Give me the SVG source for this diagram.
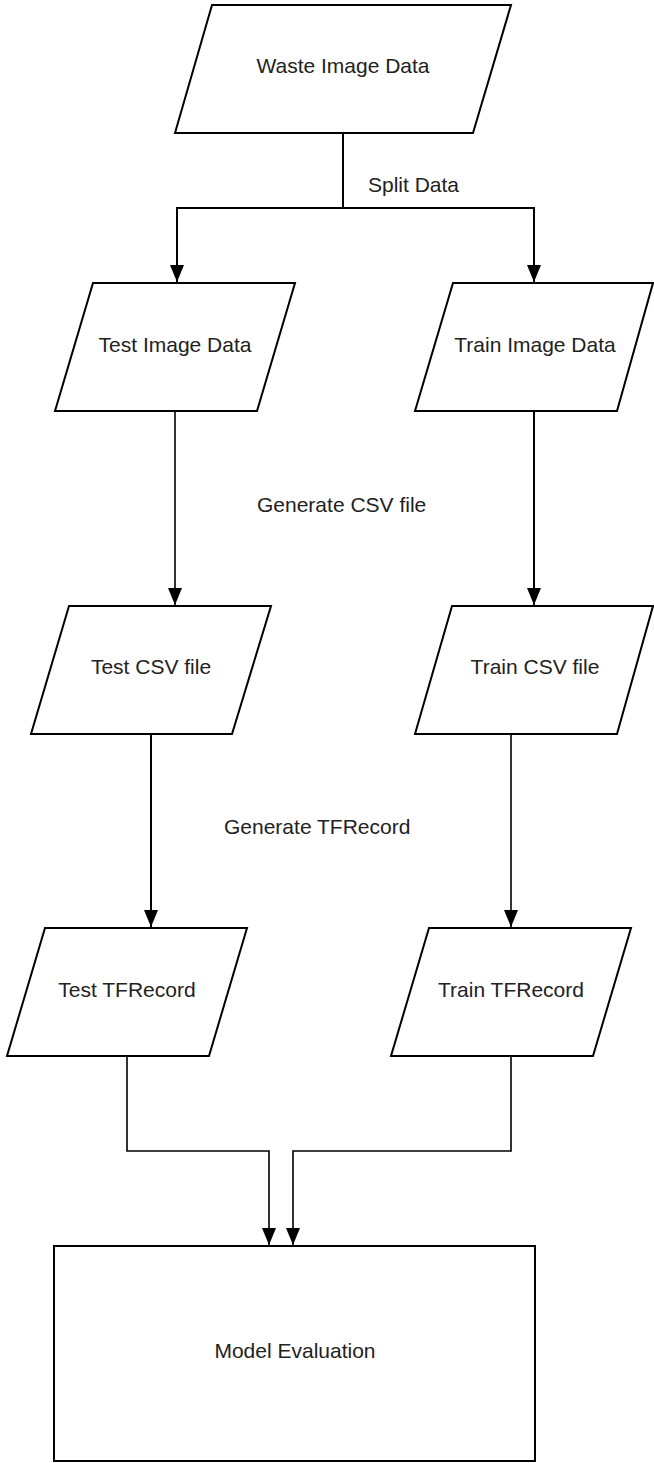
<svg xmlns="http://www.w3.org/2000/svg" width="654" height="1463" viewBox="0 0 654 1463">
<style>
.shape{fill:#fff;stroke:#000;stroke-width:2;stroke-linejoin:miter}
.lbl{font-family:"Liberation Sans",Arial,sans-serif;font-size:21px;fill:#222}
.mid{text-anchor:middle}
.conn{fill:none;stroke:#000;stroke-width:2}
.thin{stroke-width:1.6}
</style>
<defs>
<marker id="arr" markerUnits="userSpaceOnUse" markerWidth="18" markerHeight="15" viewBox="0 0 18 15" refX="17" refY="7.5" orient="auto">
<path d="M0,0.5 L17,7.5 L0,14.5 Z" fill="#000"/>
</marker>
</defs>
<rect width="654" height="1463" fill="#fff"/>
<g id="connectors">
<path class="conn" d="M343,133 V208 H177 V282" marker-end="url(#arr)"/>
<path class="conn" d="M343,208 H534 V282" marker-end="url(#arr)"/>
<path class="conn thin" d="M175,411 V605" marker-end="url(#arr)"/>
<path class="conn" d="M534,411 V605" marker-end="url(#arr)"/>
<path class="conn" d="M151,734 V927" marker-end="url(#arr)"/>
<path class="conn thin" d="M511,734 V927" marker-end="url(#arr)"/>
<path class="conn thin" d="M127,1056 V1151 H269 V1245" marker-end="url(#arr)"/>
<path class="conn thin" d="M511,1056 V1151 H293 V1245" marker-end="url(#arr)"/>
</g>
<g id="edge-labels">
<text class="lbl" x="368" y="192">Split Data</text>
<text class="lbl" x="257" y="512">Generate CSV file</text>
<text class="lbl" x="224" y="834">Generate TFRecord</text>
</g>
<g id="waste">
<polygon class="shape" points="212,5 511,5 473,133 175,133"/>
<text class="lbl mid" x="343" y="73">Waste Image Data</text>
</g>
<g id="test-image">
<polygon class="shape" points="93,283 295,283 257,411 55,411"/>
<text class="lbl mid" x="175" y="352">Test Image Data</text>
</g>
<g id="train-image">
<polygon class="shape" points="453,283 653,283 617,411 415,411"/>
<text class="lbl mid" x="535" y="352">Train Image Data</text>
</g>
<g id="test-csv">
<polygon class="shape" points="69,606 271,606 232,734 31,734"/>
<text class="lbl mid" x="151" y="674">Test CSV file</text>
</g>
<g id="train-csv">
<polygon class="shape" points="452,606 653,606 617,734 415,734"/>
<text class="lbl mid" x="535" y="674">Train CSV file</text>
</g>
<g id="test-tfrecord">
<polygon class="shape" points="45,928 247,928 209,1056 7,1056"/>
<text class="lbl mid" x="127" y="997">Test TFRecord</text>
</g>
<g id="train-tfrecord">
<polygon class="shape" points="429,928 631,928 593,1056 391,1056"/>
<text class="lbl mid" x="511" y="997">Train TFRecord</text>
</g>
<g id="model-eval">
<rect class="shape" x="54" y="1246" width="481" height="215"/>
<text class="lbl mid" x="295" y="1358">Model Evaluation</text>
</g>
</svg>
